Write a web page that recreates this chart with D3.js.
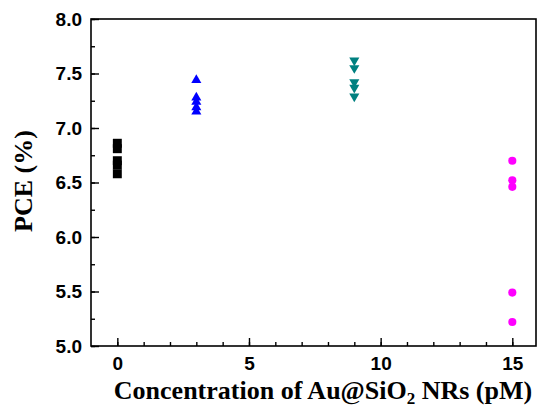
<!DOCTYPE html>
<html>
<head>
<meta charset="utf-8">
<script src="https://cdn.jsdelivr.net/npm/d3@7"></script>
<style>
  body { margin: 0; background: #fff; }
  .tick text { font-family: "Liberation Sans", Arial, sans-serif; font-weight: bold; font-size: 19px; fill: #000; }
  .title { font-family: "Liberation Serif", "Times New Roman", serif; font-weight: bold; font-size: 26px; fill: #000; }
</style>
</head>
<body>
<svg width="541" height="408"></svg>
<script>
// concentrations (pM) and PCE (%) per device
const conc0 = [0, 0, 0, 0, 0];
const pce0 = [6.86, 6.81, 6.70, 6.66, 6.58];
const conc3 = [3, 3, 3, 3, 3];
const pce3 = [7.44, 7.28, 7.24, 7.19, 7.15];
const conc9 = [9, 9, 9, 9, 9];
const pce9 = [7.62, 7.55, 7.42, 7.37, 7.29];
const conc15 = [15, 15, 15, 15, 15];
const pce15 = [6.70, 6.52, 6.46, 5.49, 5.22];

const xTicks = [0, 5, 10, 15];
const yTicks = [5.0, 5.5, 6.0, 6.5, 7.0, 7.5, 8.0];

const groups = [
  { xs: conc0, ys: pce0, color: "#000000", shape: "square" },
  { xs: conc3, ys: pce3, color: "#0000ff", shape: "up" },
  { xs: conc9, ys: pce9, color: "#008080", shape: "down" },
  { xs: conc15, ys: pce15, color: "#ff00ff", shape: "circle" }
];

const margin = { left: 91, right: 5, top: 19, bottom: 62 };
const W = 541, H = 408;

const svg = d3.select("svg");

var x = d3.scaleLinear().domain([-1, 15.9]).range([margin.left, W - margin.right]);
var y = d3.scaleLinear().domain([5, 8]).range([H - margin.bottom, margin.top]);

// frame
svg.append("rect")
  .attr("x", x(-1)).attr("y", y(8))
  .attr("width", x(15.9) - x(-1)).attr("height", y(5) - y(8))
  .attr("fill", "none").attr("stroke", "#000").attr("stroke-width", 1.6);

// minor ticks
svg.append("g")
  .attr("transform", `translate(0,${y(5)})`)
  .call(d3.axisBottom(x).tickValues(d3.range(0, 16, 1)).tickSize(-4).tickFormat(""))
  .call(g => g.select(".domain").remove())
  .selectAll("line").attr("stroke-width", 1.4);

svg.append("g")
  .attr("transform", `translate(${x(-1)},0)`)
  .call(d3.axisLeft(y).tickValues(d3.range(5, 8.01, 0.25)).tickSize(-4).tickFormat(""))
  .call(g => g.select(".domain").remove())
  .selectAll("line").attr("stroke-width", 1.4);

// major ticks + labels
svg.append("g")
  .attr("transform", `translate(0,${y(5)})`)
  .call(d3.axisBottom(x).tickValues(xTicks).tickSize(-8).tickPadding(10.5).tickFormat(d3.format("d")))
  .call(g => g.select(".domain").remove())
  .selectAll("line").attr("stroke-width", 1.4);

svg.append("g")
  .attr("transform", `translate(${x(-1)},0)`)
  .call(d3.axisLeft(y).tickValues(yTicks).tickSize(-8).tickPadding(9).tickFormat(d3.format(".1f")))
  .call(g => g.select(".domain").remove())
  .selectAll("line").attr("stroke-width", 1.4);

// points
function symbolFor(shape) {
  if (shape == "square") return d3.symbol().type(d3.symbolSquare).size(80)();
  if (shape == "circle") return d3.symbol().type(d3.symbolCircle).size(52)();
  return d3.symbol().type(d3.symbolTriangle).size(44)();
}

groups.forEach(gr => {
  const pts = gr.xs.map((v, i) => ({ cx: v, cy: gr.ys[i] }));
  svg.append("g").selectAll("path")
    .data(pts)
    .enter().append("path")
    .attr("d", symbolFor(gr.shape))
    .attr("transform", d => `translate(${x(d.cx)},${y(d.cy)})` + (gr.shape == "down" ? " rotate(180)" : ""))
    .attr("fill", gr.color);
});

// axis titles
const xt = svg.append("text")
  .attr("class", "title")
  .attr("x", 323).attr("y", 399)
  .attr("text-anchor", "middle");
xt.append("tspan").text("Concentration of Au@SiO");
xt.append("tspan").attr("font-size", "17px").attr("dy", 5).text("2");
xt.append("tspan").attr("dy", -5).text(" NRs (pM)");

svg.append("text")
  .attr("class", "title")
  .attr("transform", "translate(32,181) rotate(-90)")
  .attr("text-anchor", "middle")
  .text("PCE (%)");
</script>
</body>
</html>
